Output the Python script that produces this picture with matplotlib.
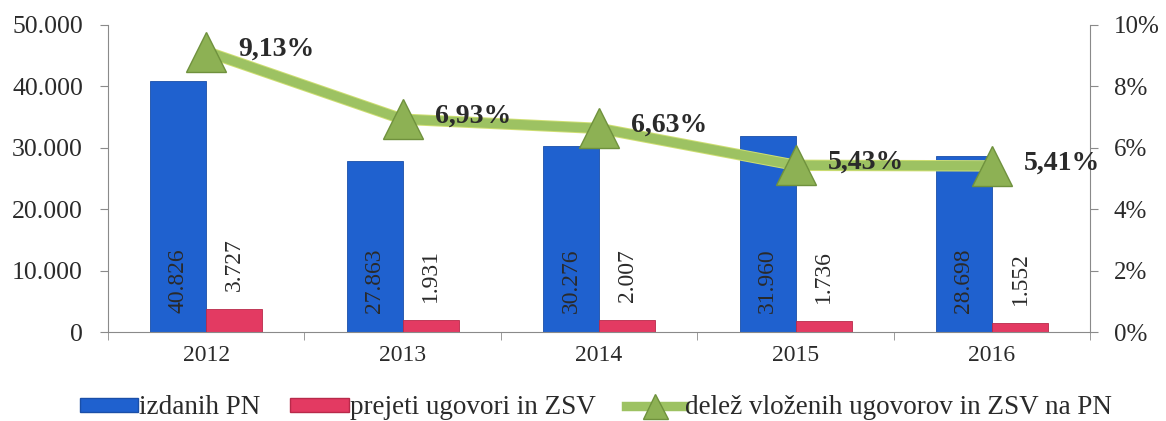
import matplotlib.pyplot as plt
from matplotlib.lines import Line2D
from matplotlib.patches import Patch
from matplotlib.ticker import FuncFormatter, FixedLocator
import numpy as np

plt.rcParams['font.family'] = ['Liberation Serif', 'DejaVu Serif']

# data
years = ['2012', '2013', '2014', '2015', '2016']
izdanih_pn = [40826, 27863, 30276, 31960, 28698]
prejeti_ugovori = [3727, 1931, 2007, 1736, 1552]
delez = [9.13, 6.93, 6.63, 5.43, 5.41]

labels = ['izdanih PN', 'prejeti ugovori in ZSV',
          'delež vloženih ugovorov in ZSV na PN']

blue = '#1f61cf'
red = '#e33a62'
green = '#9dc262'
green_edge = '#cfdf72'
axis_gray = '#8a8a8a'
text_col = '#2a2a2a'
fs = 17


def dots(v):
    return f"{int(v):,}".replace(',', '.')


fig = plt.figure(figsize=(11.66, 4.21), dpi=100)
ax = fig.add_axes([0.0926, 0.211, 0.8424, 0.730])
ax2 = ax.twinx()

x = np.arange(len(years))
w = 0.285

# bars
ax.bar(x - w / 2, izdanih_pn, w, color=blue, edgecolor='#1a4fa8', linewidth=0.6)
ax.bar(x + w / 2, prejeti_ugovori, w, color=red, edgecolor='#b82a4a', linewidth=0.6)

for xi, v in zip(x, izdanih_pn):
    ax.annotate(dots(v), (xi - w / 2, 0), xytext=(0, 14), textcoords='offset points',
                ha='center', va='bottom', rotation=90, fontsize=fs, color=text_col)
for xi, v in zip(x, prejeti_ugovori):
    ax.annotate(dots(v), (xi + w / 2, v), xytext=(0, 13), textcoords='offset points',
                ha='center', va='bottom', rotation=90, fontsize=fs, color=text_col)

# share line (drawn twice to get a light outline)
ax2.plot(x, delez, color=green_edge, lw=8.2, solid_capstyle='butt', zorder=3)
ax2.plot(x, delez, color=green, lw=6.8, solid_capstyle='butt', zorder=4)
ax2.plot(x, delez, ls='none', marker='^', ms=29, mfc='#8db154', mec='#6f913d',
         mew=1, zorder=5)
for xi, v in zip(x, delez):
    ax2.annotate(f"{v:.2f}%".replace('.', ','), (xi, v), xytext=(23, 2),
                 textcoords='offset points', ha='left', va='center',
                 fontsize=20, fontweight='bold', color=text_col, zorder=6)

# axes
ax.set_xlim(-0.5, len(years) - 0.5)
ax.set_ylim(0, 50000)
ax2.set_ylim(0, 10)
ax.set_yticks(np.arange(0, 50001, 10000))
ax2.set_yticks(np.arange(0, 11, 2))
ax.yaxis.set_major_formatter(FuncFormatter(lambda v, p: dots(v)))
ax2.yaxis.set_major_formatter(FuncFormatter(lambda v, p: f"{int(v)}%"))

ax.set_xticks(x)
ax.set_xticklabels(years)
ax.xaxis.set_minor_locator(FixedLocator(np.arange(-0.5, len(years), 1)))
ax.tick_params(axis='x', which='major', length=0, pad=9, labelsize=fs, labelcolor=text_col)
ax.tick_params(axis='x', which='minor', length=6, color=axis_gray)
ax.tick_params(axis='y', length=6, color=axis_gray, labelsize=18.5, pad=12, labelcolor=text_col)
ax2.tick_params(axis='y', length=6, color=axis_gray, labelsize=18, pad=11, labelcolor=text_col)

for a in (ax, ax2):
    a.spines['top'].set_visible(False)
    for s in ('left', 'right', 'bottom'):
        a.spines[s].set_color(axis_gray)
ax.spines['right'].set_visible(False)
ax2.spines['left'].set_visible(False)
ax2.spines['bottom'].set_visible(False)

# legend
handles = [
    Patch(facecolor=blue, edgecolor='#1a4fa8'),
    Patch(facecolor=red, edgecolor='#b82a4a'),
    Line2D([], [], color=green, lw=6.8, marker='^', ms=18, mfc='#8db154', mec='#6f913d'),
]
fig.legend(handles, labels, loc='center', bbox_to_anchor=(0.511, 0.031), ncol=3,
           frameon=False, fontsize=19.5, handlelength=2.15, handleheight=0.45,
           handletextpad=0.05, columnspacing=1.1, labelcolor=text_col)

fig.savefig('out.png', dpi=100)
